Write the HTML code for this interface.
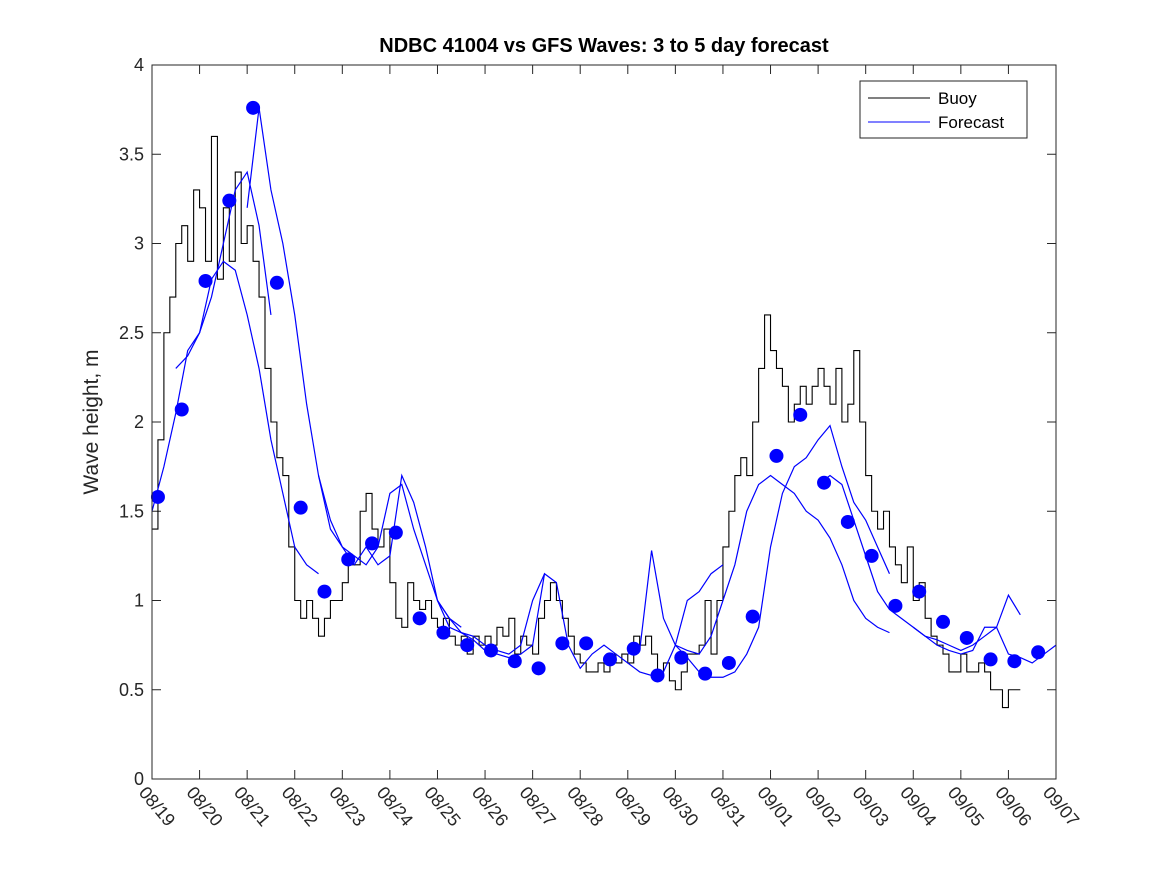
<!DOCTYPE html>
<html><head><meta charset="utf-8"><style>
body{margin:0;background:#fff;}
svg{display:block;font-family:"Liberation Sans","DejaVu Sans",sans-serif;}
</style></head><body>
<svg id="c" width="1167" height="875">
<rect x="0" y="0" width="1167" height="875" fill="#fff"/>
<text x="604" y="52" text-anchor="middle" font-size="20" font-weight="bold" fill="#000">NDBC 41004 vs GFS Waves: 3 to 5 day forecast</text>
<text transform="translate(98,422) rotate(-90)" text-anchor="middle" font-size="21" fill="#262626">Wave height, m</text>
<g id="grid"></g>
<g id="marks"></g>
<rect x="152" y="65" width="904" height="714" fill="none" stroke="#262626" stroke-width="1"/>
<g>
<rect x="860" y="81" width="167" height="57" fill="#fff" stroke="#262626" stroke-width="1"/>
<line x1="868" y1="98" x2="930" y2="98" stroke="#000"/>
<text x="938" y="104" font-size="17" fill="#000">Buoy</text>
<line x1="868" y1="122" x2="930" y2="122" stroke="#0000ff"/>
<text x="938" y="128" font-size="17" fill="#000">Forecast</text>
</g>
</svg>
<script>
const xTickLabels=["08/19","08/20","08/21","08/22","08/23","08/24","08/25","08/26","08/27","08/28","08/29","08/30","08/31","09/01","09/02","09/03","09/04","09/05","09/06","09/07"];
const yTicks=[0,0.5,1,1.5,2,2.5,3,3.5,4];
const buoyStep=0.125;
const buoy=[1.4,1.9,2.5,2.7,3.0,3.1,2.9,3.3,
3.2,2.9,3.6,2.8,3.2,2.9,3.4,3.0,
3.1,2.9,2.7,2.3,2.0,1.8,1.7,1.3,
1.0,0.9,1.0,0.9,0.8,0.9,1.0,1.0,
1.1,1.2,1.2,1.5,1.6,1.4,1.3,1.4,
1.1,0.9,0.85,1.1,1.0,0.95,1.0,0.9,
0.85,0.9,0.8,0.75,0.8,0.7,0.8,0.75,
0.8,0.75,0.85,0.8,0.9,0.7,0.8,0.75,
0.7,0.9,1.0,1.1,1.0,0.9,0.8,0.7,
0.65,0.6,0.6,0.65,0.6,0.7,0.65,0.7,
0.65,0.8,0.75,0.8,0.7,0.6,0.65,0.55,
0.5,0.6,0.7,0.7,0.75,1.0,0.7,1.0,
1.3,1.5,1.7,1.8,1.7,2.0,2.3,2.6,
2.4,2.3,2.2,2.0,2.1,2.2,2.1,2.2,
2.3,2.2,2.1,2.3,2.0,2.1,2.4,2.0,
1.7,1.5,1.4,1.5,1.3,1.2,1.1,1.3,
1.0,1.1,0.9,0.8,0.75,0.7,0.6,0.6,
0.7,0.6,0.6,0.65,0.6,0.5,0.5,0.4,
0.5,0.5];
const dotStart=0.125;
const dotStep=0.5;
const dots=[1.58,2.07,2.79,3.24,3.76,2.78,1.52,1.05,1.23,1.32,1.38,0.90,0.82,0.75,0.72,0.66,0.62,0.76,0.76,0.67,0.73,0.58,0.68,0.59,0.65,0.91,1.81,2.04,1.66,1.44,1.25,0.97,1.05,0.88,0.79,0.67,0.66,0.71];
const fcStarts=[0,0.5,2.0,3.5,6.0,10.0,11.0,14.0,16.0];
const fcStep=0.25;
const fc1=[1.5,1.75,2.05,2.4,2.5,2.7,3.0,3.3,3.4,3.1,2.6];
const fc2=[2.3,2.37,2.5,2.8,2.9,2.85,2.6,2.3,1.9,1.6,1.3,1.2,1.15];
const fc3=[3.2,3.76,3.3,3.0,2.6,2.1,1.7,1.4,1.3,1.25,1.2,1.3,1.6,1.65,1.4,1.2,1.0,0.9,0.85];
const fc4=[1.7,1.45,1.3,1.2,1.3,1.2,1.25,1.7,1.55,1.3,1.0,0.85,0.82,0.8,0.75,0.72,0.7,0.75,1.0,1.15];
const fc5=[1.0,0.9,0.82,0.78,0.72,0.7,0.68,0.7,0.75,1.15,1.1,0.75,0.62,0.7,0.75,0.7,0.65,0.6,0.58,0.6,0.75,1.0,1.05,1.15,1.2];
const fc6=[0.7,0.72,1.28,0.9,0.75,0.68,0.6,0.57,0.57,0.6,0.7,0.85,1.3,1.6,1.75,1.8,1.9,1.98,1.75,1.55,1.45,1.3,1.15];
const fc7=[0.75,0.72,0.7,0.8,1.0,1.2,1.5,1.65,1.7,1.65,1.6,1.5,1.45,1.35,1.2,1.0,0.9,0.85,0.82];
const fc8=[1.65,1.7,1.65,1.45,1.25,1.05,0.95,0.9,0.85,0.8,0.75,0.72,0.7,0.72,0.85,0.85,0.7,0.68,0.65,0.7,0.75];
const fc9=[0.85,0.8,0.78,0.75,0.72,0.75,0.8,0.85,1.03,0.92];
const forecasts=[fc1,fc2,fc3,fc4,fc5,fc6,fc7,fc8,fc9];

const NS="http://www.w3.org/2000/svg";
const X0=152,X1=1056,Y0=779,Y1=65;
function xs(t){return X0+(X1-X0)*t/19;}
function ys(v){return Y0-(Y0-Y1)*v/4;}
function mk(tag,attrs,parent){const e=document.createElementNS(NS,tag);for(const k in attrs)e.setAttribute(k,attrs[k]);parent.appendChild(e);return e;}
const grid=document.getElementById('grid');
const marks=document.getElementById('marks');
xTickLabels.forEach((lab,i)=>{
  const x=xs(i);
  const t1=mk('line',{x1:x,y1:Y0,x2:x,y2:Y0-9,stroke:'#262626'},grid);
  
  
  const t2=mk('line',{x1:x,y1:Y1,x2:x,y2:Y1+9,stroke:'#262626'},grid);
  
  
  const tx=mk('text',{x:x-14,y:Y0+14,'font-size':18,fill:'#262626',transform:`rotate(50 ${x-14} ${Y0+14})`},grid);
  tx.textContent=lab;
  
  
});
yTicks.forEach(v=>{
  const y=ys(v);
  const t1=mk('line',{x1:X0,y1:y,x2:X0+9,y2:y,stroke:'#262626'},grid);
  
  
  const t2=mk('line',{x1:X1,y1:y,x2:X1-9,y2:y,stroke:'#262626'},grid);
  
  
  const tx=mk('text',{x:X0-8,y:y+6,'font-size':18,fill:'#262626','text-anchor':'end'},grid);
  tx.textContent=String(v);
  
  
});
let d='';
buoy.forEach((v,i)=>{const x=xs(i*buoyStep),y=ys(v);
  if(i===0)d+=`M${x},${y}`;else d+=`L${x},${ys(buoy[i-1])}L${x},${y}`;});
d+=`L${xs(buoy.length*buoyStep)},${ys(buoy[buoy.length-1])}`;
const bl=mk('path',{d:d,fill:'none',stroke:'#000','stroke-width':1.1},marks);


forecasts.forEach((s,k)=>{
  const p=s.map((v,i)=>`${i?'L':'M'}${xs(fcStarts[k]+i*fcStep)},${ys(v)}`).join('');
  const fl=mk('path',{d:p,fill:'none',stroke:'#0000ff','stroke-width':1.2},marks);
  
  
});
dots.forEach((v,i)=>{
  const c=mk('circle',{cx:xs(dotStart+i*dotStep),cy:ys(v),r:7,fill:'#0000ff'},marks);
  
  
});
</script>
</body></html>
